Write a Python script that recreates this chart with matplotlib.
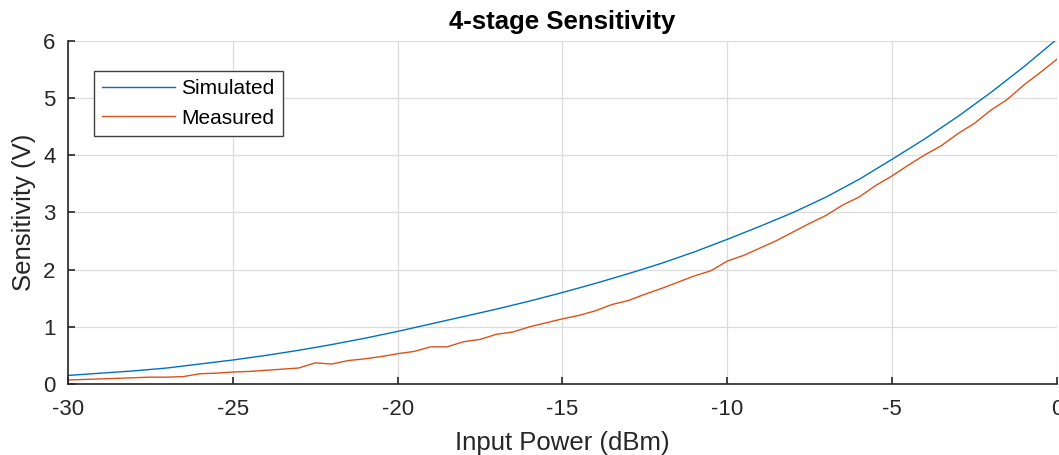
import numpy as np
import matplotlib.pyplot as plt

plt.rcParams['font.family'] = ['Liberation Sans', 'DejaVu Sans']
plt.rcParams['axes.unicode_minus'] = False

# simulated sensitivity, 1 dB steps
sim_p = np.arange(-30, 1, 1)
sim_v = [0.15, 0.19, 0.23, 0.28, 0.35, 0.42, 0.50, 0.59, 0.69, 0.80,
         0.92, 1.05, 1.18, 1.31, 1.45, 1.60, 1.76, 1.93, 2.11, 2.31,
         2.53, 2.76, 3.00, 3.27, 3.58, 3.93, 4.29, 4.68, 5.10, 5.55, 6.03]

# measured sensitivity, 0.5 dB steps
meas_p = np.arange(-30, 0.5, 0.5)
meas_v = [0.07, 0.08, 0.09, 0.10, 0.11, 0.12, 0.12, 0.13, 0.18, 0.19,
          0.21, 0.22, 0.24, 0.26, 0.28, 0.37, 0.35, 0.41, 0.44, 0.48,
          0.53, 0.57, 0.65, 0.65, 0.74, 0.78, 0.87, 0.91, 1.00, 1.07,
          1.14, 1.20, 1.28, 1.39, 1.46, 1.57, 1.67, 1.78, 1.89, 1.98,
          2.15, 2.25, 2.38, 2.51, 2.66, 2.81, 2.95, 3.13, 3.27, 3.47,
          3.64, 3.83, 4.01, 4.17, 4.38, 4.56, 4.79, 4.98, 5.23, 5.45,
          5.68]

fig = plt.figure(figsize=(10.59, 4.55), dpi=100)
ax = fig.add_axes([0.0642, 0.156, 0.9338, 0.754])

ax.plot(sim_p, sim_v, color='#0072BD', lw=1.0, label='Simulated')
ax.plot(meas_p, meas_v, color='#D95319', lw=1.0, label='Measured')

ax.set_xlim(-30, 0)
ax.set_ylim(0, 6)
ax.set_xticks(np.arange(-30, 1, 5))
ax.set_yticks(np.arange(0, 7, 1))
ax.grid(True, color='#dcdcdc', lw=0.9)
ax.set_axisbelow(True)

for s in ['top', 'right']:
    ax.spines[s].set_visible(False)
for s in ['left', 'bottom']:
    ax.spines[s].set_color('#262626')
    ax.spines[s].set_linewidth(1.2)
ax.tick_params(direction='in', length=5, width=1.2, colors='#262626',
               labelsize=16)
ax.tick_params(axis='x', pad=11)
ax.tick_params(axis='y', pad=9)

ax.set_title('4-stage Sensitivity', fontsize=18.5, fontweight='bold', pad=8.5)
ax.set_xlabel('Input Power (dBm)', fontsize=18.5, color='#262626', labelpad=7.5)
ax.set_ylabel('Sensitivity (V)', fontsize=18.5, color='#262626', labelpad=5)

leg = ax.legend(loc='upper left', bbox_to_anchor=(0.026, 0.9125), fontsize=15,
                fancybox=False, edgecolor='#404040', framealpha=1,
                handlelength=3.5, handletextpad=0.3, borderpad=0.4,
                labelspacing=0.5, borderaxespad=0)
leg.get_frame().set_linewidth(1.0)

fig.savefig('out.png', dpi=100)
